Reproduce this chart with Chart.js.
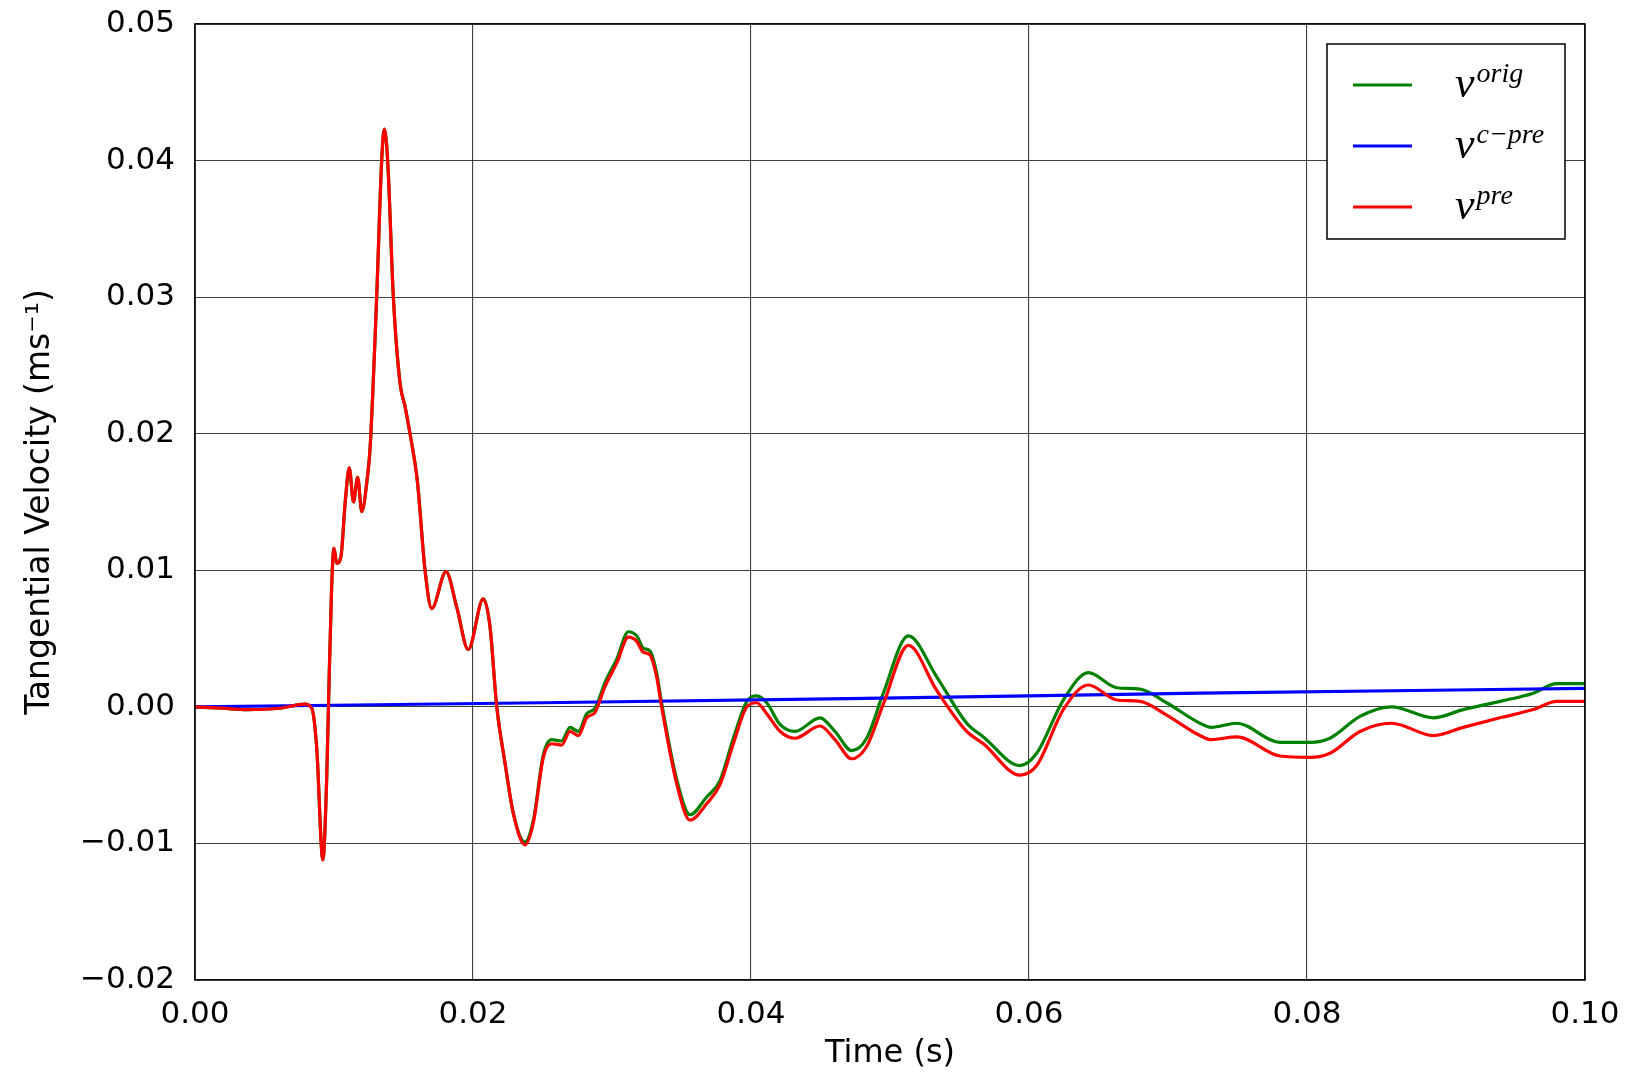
<!DOCTYPE html>
<html>
<head>
<meta charset="utf-8">
<script src="https://cdn.jsdelivr.net/npm/chart.js@4.4.1/dist/chart.umd.min.js"></script>
<style>
  html, body { margin: 0; padding: 0; background: #fff; }
  #wrap { width: 1630px; height: 1077px; position: relative; }
</style>
</head>
<body>
<div id="wrap"><canvas id="velocityChart"></canvas></div>
<script>
// time samples (s) shared by v_orig and v_pre
const timeS = [
  0, 0.002, 0.0037, 0.0061, 0.0079, 0.0084, 0.00875, 0.0092, 0.00947, 0.0096,
  0.00983, 0.0100, 0.0102, 0.0105, 0.0108, 0.0111, 0.0114, 0.0117, 0.0120, 0.0124,
  0.0126, 0.01307, 0.01343, 0.01362, 0.01386, 0.01427, 0.01475, 0.01511, 0.01547, 0.0160,
  0.01655, 0.01703, 0.01806, 0.01883, 0.01966, 0.02074, 0.02122, 0.0217, 0.0223, 0.0229,
  0.02374, 0.02434, 0.02506, 0.02566, 0.02638, 0.02698, 0.02758, 0.02818, 0.02878, 0.0295,
  0.03034, 0.03118, 0.03178, 0.03225, 0.03273, 0.03321, 0.03357, 0.03465, 0.03561, 0.03681,
  0.03777, 0.03873, 0.0397, 0.04041, 0.04113, 0.0421, 0.04317, 0.04496, 0.04604, 0.04724,
  0.04832, 0.04952, 0.05132, 0.05336, 0.05552, 0.05672, 0.05935, 0.06055, 0.06247, 0.06427,
  0.06631, 0.06799, 0.0699, 0.0723, 0.0731, 0.07494, 0.07806, 0.08022, 0.08165, 0.08381,
  0.08609, 0.08909, 0.09124, 0.09388, 0.09628, 0.09796, 0.1
];

const vPre = [
  0, -0.0001, -0.0002, -0.0001, 0.0002, -0.0001, -0.0029, -0.0112, -0.0054, 0.0000,
  0.0088, 0.0116, 0.0105, 0.0110, 0.0149, 0.0175, 0.0150, 0.0168, 0.0143, 0.0168,
  0.0190, 0.0300, 0.0400, 0.0423, 0.0400, 0.0300, 0.0237, 0.0220, 0.0200, 0.0165,
  0.0100, 0.0072, 0.0099, 0.0073, 0.0042, 0.0079, 0.0059, 0.0001, -0.0041, -0.0078,
  -0.0101, -0.0085, -0.0037, -0.0027, -0.0028, -0.0018, -0.0021, -0.0008, -0.0004, 0.0015,
  0.0032, 0.0051, 0.0048, 0.0040, 0.0038, 0.0022, 0.0000, -0.0056, -0.0083, -0.0071,
  -0.0057, -0.0027, 0.0000, 0.0003, -0.0005, -0.0018, -0.0023, -0.0014, -0.0024, -0.0038,
  -0.0029, 0.0002, 0.0045, 0.0012, -0.0018, -0.0027, -0.0050, -0.0043, -0.0002, 0.0016,
  0.0005, 0.0004, -0.0006, -0.0021, -0.0024, -0.0022, -0.0036, -0.0037, -0.0034, -0.0018,
  -0.0012, -0.0021, -0.0015, -0.0008, -0.0002, 0.0004, 0.0004
];

const vOrig = [
  0, -0.0001, -0.0002, -0.0001, 0.0002, -0.0001, -0.0029, -0.0112, -0.0054, 0.0000,
  0.0088, 0.0116, 0.0105, 0.0110, 0.0149, 0.0175, 0.0150, 0.0168, 0.0143, 0.0168,
  0.0190, 0.0300, 0.0400, 0.0423, 0.0400, 0.0300, 0.0237, 0.0220, 0.0200, 0.0165,
  0.0100, 0.0072, 0.0099, 0.0073, 0.0042, 0.0079, 0.0059, 0.0001, -0.0041, -0.0078,
  -0.0099, -0.0083, -0.0035, -0.0024, -0.0025, -0.0015, -0.0018, -0.0005, -0.0001, 0.0018,
  0.0035, 0.0055, 0.0052, 0.0043, 0.0041, 0.0025, 0.0003, -0.0053, -0.0079, -0.0066,
  -0.0054, -0.0023, 0.0004, 0.0008, 0.0003, -0.0013, -0.0018, -0.0008, -0.0018, -0.0032,
  -0.0023, 0.0010, 0.0052, 0.0022, -0.0012, -0.0022, -0.0043, -0.0034, 0.0005, 0.0025,
  0.0014, 0.0013, 0.0003, -0.0012, -0.0015, -0.0012, -0.0026, -0.0026, -0.0023, -0.0007,
  0.0000, -0.0008, -0.0002, 0.0004, 0.0010, 0.0017, 0.0017
];

// v_c-pre is almost a straight line
const timeCPre = [0, 0.025, 0.047, 0.0723, 0.1];
const vCPre = [0, 0.0003, 0.0006, 0.0010, 0.00135];

const xTicks = [0, 0.02, 0.04, 0.06, 0.08, 0.10];
const yTicks = [-0.02, -0.01, 0, 0.01, 0.02, 0.03, 0.04, 0.05];

const seriesNames = ['orig', 'c\u2212pre', 'pre'];
const seriesColors = ['#008000', '#0000ff', '#ff0000'];

const toPoints = (xs, ys) => xs.map((x, i) => ({ x: x, y: ys[i] }));
const fmt = v => v.toFixed(2).replace('-', '\u2212');

// frame round the plot, like matplotlib's axes box
const frame = {
  id: 'frame',
  afterDraw(chart) {
    const a = chart.chartArea, ctx = chart.ctx;
    ctx.save();
    ctx.strokeStyle = '#000';
    ctx.lineWidth = 1.6;
    ctx.strokeRect(a.left, a.top, a.right - a.left, a.bottom - a.top);
    ctx.restore();
  }
};

// legend with superscripts (v^orig etc), drawn by hand
const mathLegend = {
  id: 'mathLegend',
  afterDraw(chart) {
    const a = chart.chartArea, ctx = chart.ctx;
    const bw = 238, bh = 195;
    const bx = a.right - 258, by = a.top + 20;
    ctx.save();
    ctx.fillStyle = '#fff';
    ctx.fillRect(bx, by, bw, bh);
    ctx.strokeStyle = '#000';
    ctx.lineWidth = 1.5;
    ctx.strokeRect(bx, by, bw, bh);
    seriesNames.forEach((name, i) => {
      const y = by + 41 + i * 61;
      ctx.strokeStyle = seriesColors[i];
      ctx.lineWidth = 3;
      ctx.beginPath();
      ctx.moveTo(bx + 26, y);
      ctx.lineTo(bx + 85, y);
      ctx.stroke();
      ctx.fillStyle = '#000';
      ctx.textBaseline = 'alphabetic';
      ctx.font = 'italic 44px "Liberation Serif"';
      ctx.fillText('v', bx + 128, y + 12);
      const w = ctx.measureText('v').width;
      ctx.font = 'italic 28px "Liberation Serif"';
      ctx.fillText(name, bx + 128 + w + 2, y - 3);
    });
    ctx.restore();
  }
};

const gridStyle = { color: 'rgba(0,0,0,0.75)', lineWidth: 1.1, drawTicks: false };

new Chart(document.getElementById('velocityChart').getContext('2d'), {
  type: 'line',
  data: {
    datasets: [{
      label: 'v orig',
      data: toPoints(timeS, vOrig),
      borderColor: seriesColors[0],
      borderWidth: 3.2,
      order: 3
    }, {
      label: 'v c-pre',
      data: toPoints(timeCPre, vCPre),
      borderColor: seriesColors[1],
      borderWidth: 3.2,
      order: 2
    }, {
      label: 'v pre',
      data: toPoints(timeS, vPre),
      borderColor: seriesColors[2],
      borderWidth: 3.2,
      order: 1
    }]
  },
  options: {
    responsive: true,
    maintainAspectRatio: false,
    animation: false,
    devicePixelRatio: 1,
    layout: { padding: { top: 24, right: 45, left: 0, bottom: 0 } },
    elements: {
      point: { radius: 0 },
      line: { cubicInterpolationMode: 'monotone', fill: false }
    },
    plugins: {
      legend: { display: false },
      tooltip: { enabled: false }
    },
    scales: {
      x: {
        type: 'linear',
        min: 0,
        max: 0.1,
        afterBuildTicks: s => { s.ticks = xTicks.map(v => ({ value: v })); },
        afterFit: s => { s.height = 97; s.paddingLeft = 0; s.paddingRight = 0; },
        grid: gridStyle,
        border: { display: false },
        ticks: {
          color: '#000',
          padding: 16,
          maxRotation: 0,
          font: { family: '"DejaVu Sans"', size: 31 },
          callback: v => fmt(v)
        },
        title: {
          display: true,
          text: 'Time (s)',
          color: '#000',
          font: { family: '"DejaVu Sans"', size: 32 },
          padding: { top: 0, bottom: 4 }
        }
      },
      y: {
        type: 'linear',
        min: -0.02,
        max: 0.05,
        afterBuildTicks: s => { s.ticks = yTicks.map(v => ({ value: v })); },
        afterFit: s => { s.width = 195; s.paddingTop = 0; s.paddingBottom = 0; },
        grid: gridStyle,
        border: { display: false },
        ticks: {
          color: '#000',
          padding: 20,
          font: { family: '"DejaVu Sans"', size: 31 },
          callback: v => fmt(v)
        },
        title: {
          display: true,
          text: 'Tangential Velocity (ms\u207B\u00B9)',
          color: '#000',
          font: { family: '"DejaVu Sans"', size: 33 },
          padding: { top: 21, bottom: 0 }
        }
      }
    }
  },
  plugins: [frame, mathLegend]
});
</script>
</body>
</html>
